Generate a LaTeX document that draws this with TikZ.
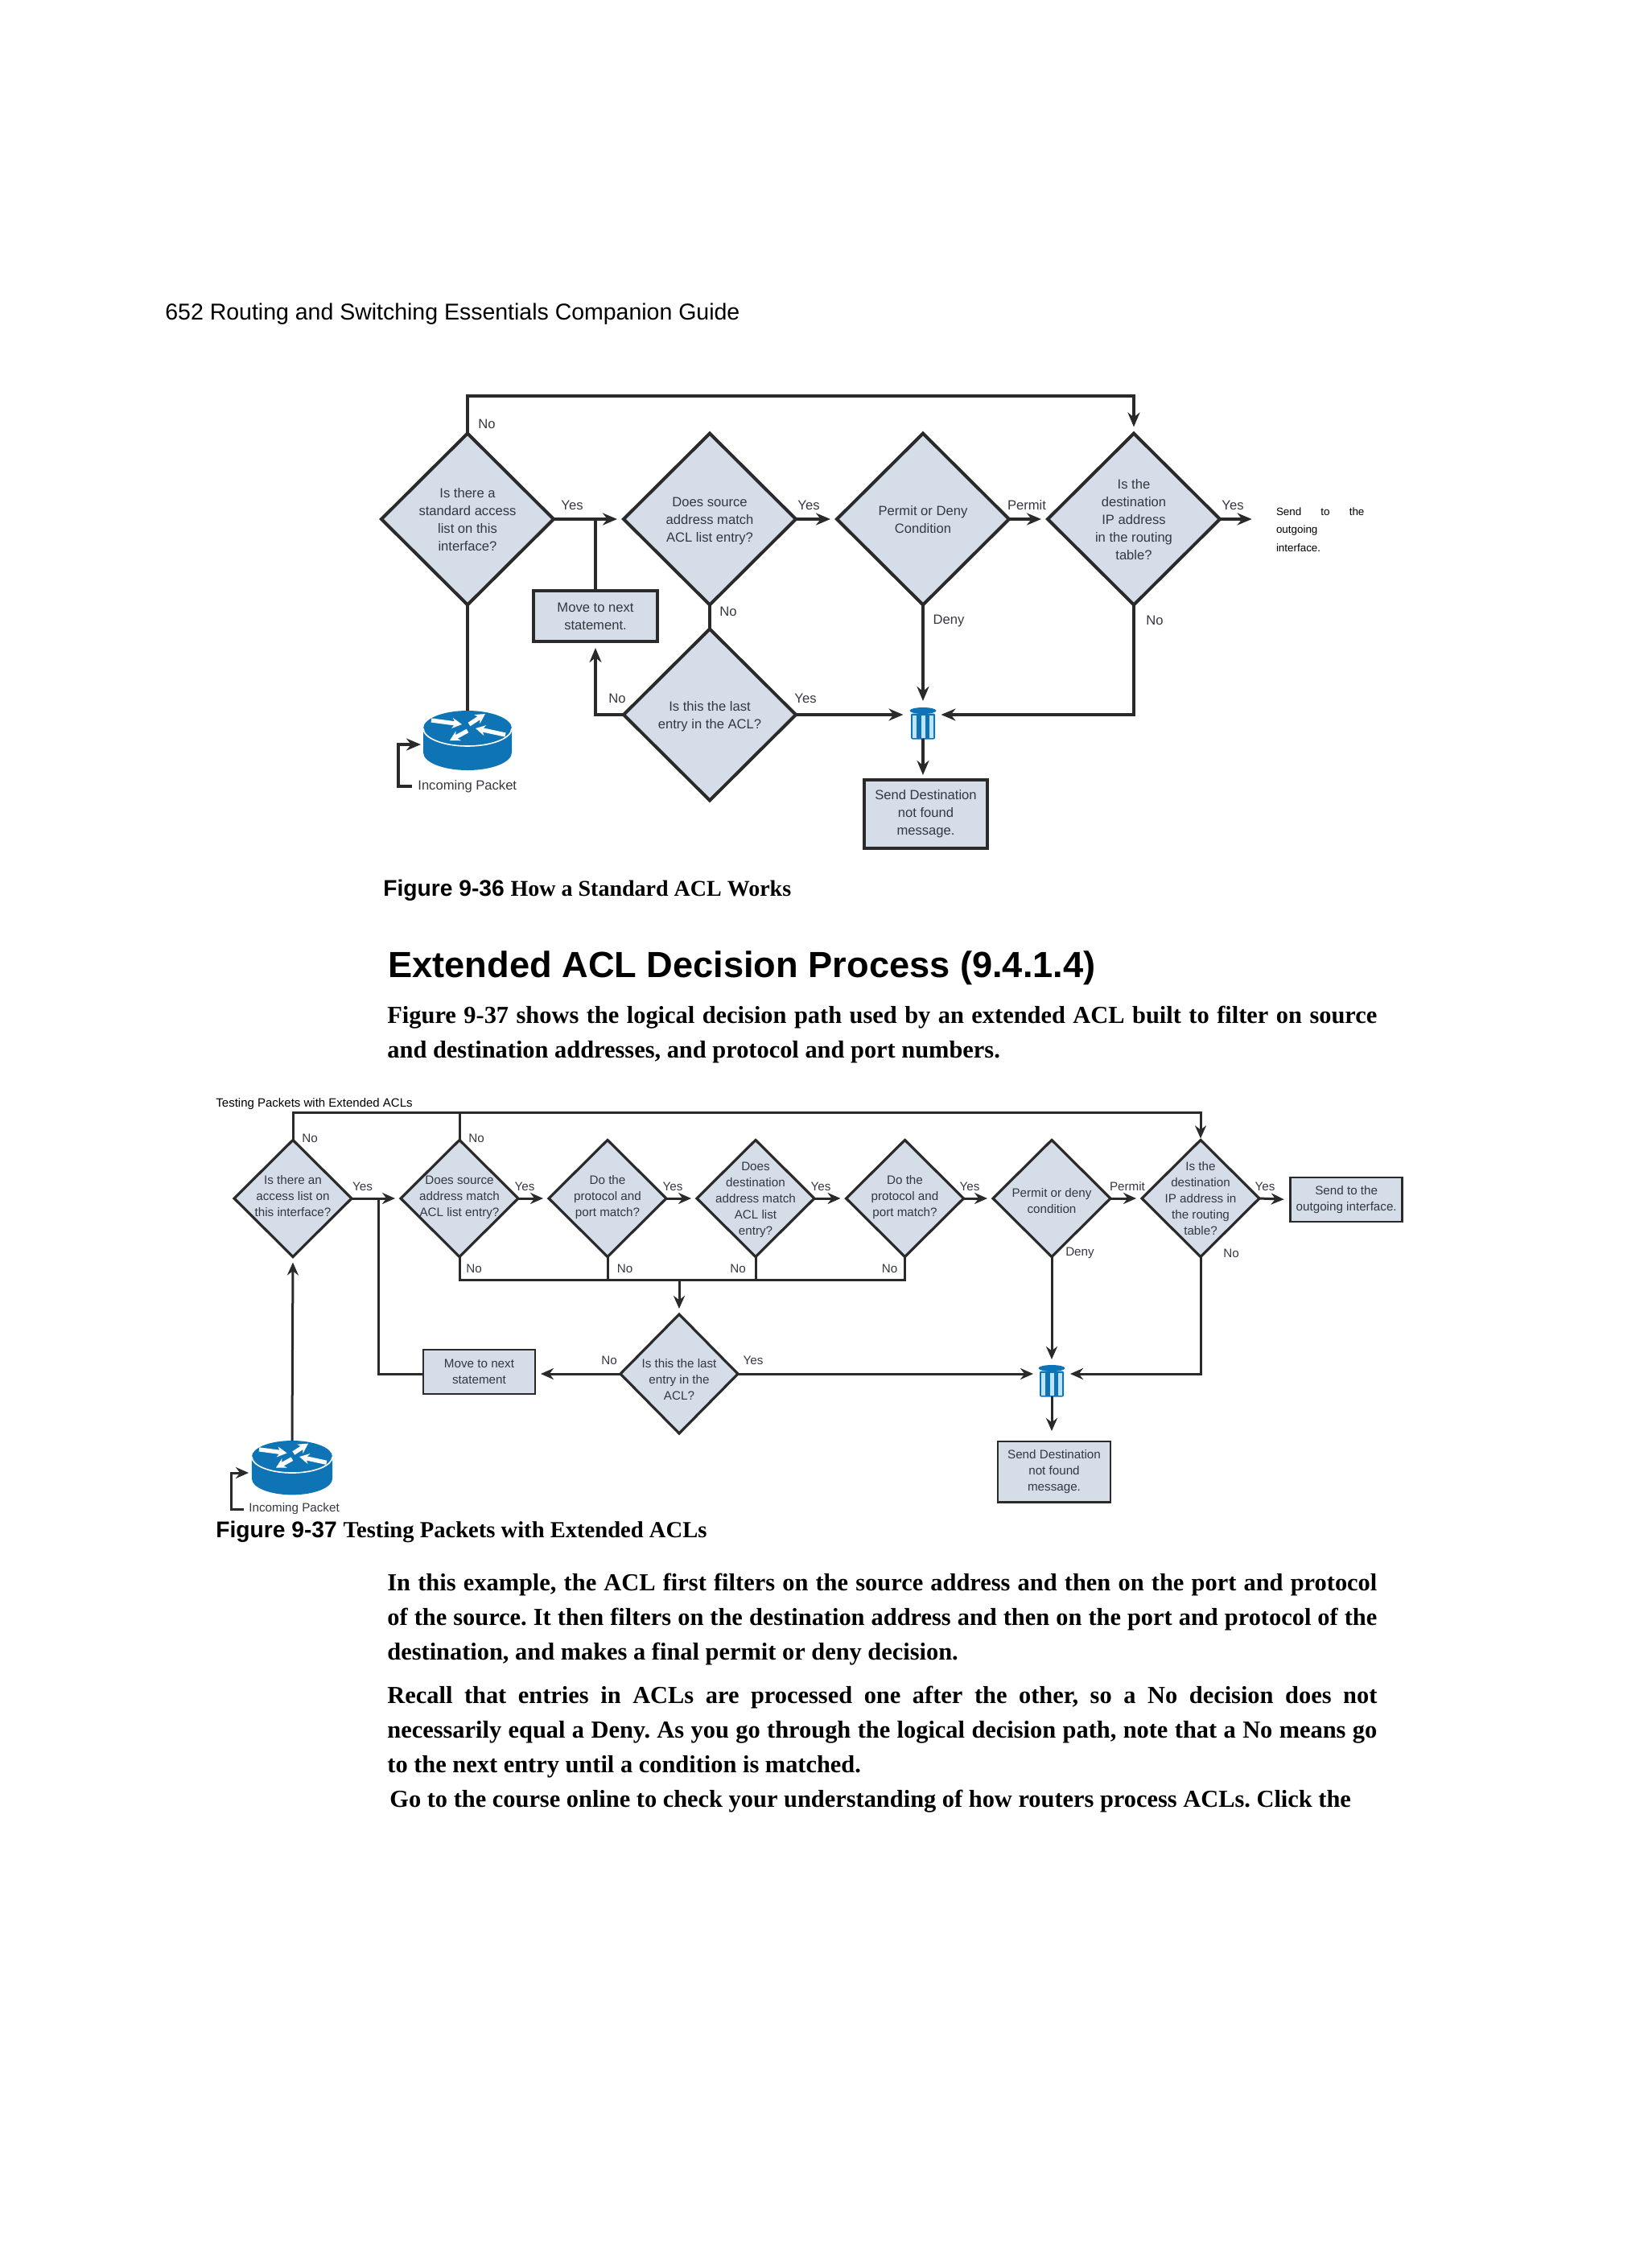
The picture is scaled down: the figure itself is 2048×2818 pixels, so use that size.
\documentclass[tikz,border=0pt]{standalone}
\usepackage{fontspec}
\setmainfont{Liberation Sans}
\newfontfamily\bookfont{Liberation Serif}
\usetikzlibrary{arrows.meta,shapes.geometric}
\definecolor{flowfill}{HTML}{D5DDE9}
\definecolor{flowline}{HTML}{2A2A2A}
\definecolor{flowtext}{HTML}{343940}
\definecolor{iconblue}{HTML}{0F74B6}
\definecolor{iconlight}{HTML}{BFE4F6}
\newcommand{\dtext}[2][-2.5pt]{\smash{\makebox[0pt]{\raisebox{#1}{\begin{tabular}{@{}c@{}}#2\end{tabular}}}}}
\newcommand{\bodyline}[1]{\makebox[615pt][s]{#1}}
\frenchspacing
\tikzset{
    bigdec/.style={diamond,aspect=1,draw=flowline,fill=flowfill,line width=2pt,inner sep=0pt,outer sep=0pt,minimum width=107pt,minimum height=106.5pt,text=flowtext,font=\fontsize{8.3}{11}\selectfont},
    smalldec/.style={diamond,aspect=1,draw=flowline,fill=flowfill,line width=1.6pt,inner sep=0pt,outer sep=0pt,minimum width=73pt,minimum height=72.5pt,text=flowtext,font=\fontsize{7.6}{10}\selectfont},
    bigbox/.style={rectangle,draw=flowline,fill=flowfill,line width=2pt,inner sep=0pt,outer sep=0pt,align=center,text=flowtext,font=\fontsize{8.3}{11}\selectfont},
    smallbox/.style={rectangle,draw=flowline,fill=flowfill,line width=1.4pt,inner sep=0pt,outer sep=0pt,align=center,text=flowtext,font=\fontsize{7.6}{10}\selectfont},
    bigline/.style={draw=flowline,line width=1.9pt},
    smallline/.style={draw=flowline,line width=1.5pt},
    bigflow/.style={bigline,-{Stealth[length=9pt,width=7.5pt]},shorten >=4pt},
    smallflow/.style={smallline,-{Stealth[length=8pt,width=7pt]},shorten >=3.5pt},
    biglab/.style={inner sep=0pt,text=flowtext,font=\fontsize{8.3}{11}\selectfont},
    smalllab/.style={inner sep=0pt,text=flowtext,font=\fontsize{7.6}{10}\selectfont},
    icon/.style={inner sep=0pt,outer sep=0pt},
    pagetext/.style={inner sep=0pt,anchor=west,align=left},
    bodytext/.style={inner sep=0pt,anchor=north west,align=left,font=\bookfont\bfseries\fontsize{15.2}{21.5}\selectfont},
    routerpic/.pic={
        \fill[iconblue] (-55,0) -- (-55,30) arc[start angle=180,end angle=0,x radius=55,y radius=22] -- (55,0) -- cycle;
        \fill[iconblue] (0,0) ellipse[x radius=55,y radius=22];
        \draw[white,line width=.8pt] (-55,0) arc[start angle=180,end angle=0,x radius=55,y radius=22];
        \draw[white,line width=2.6pt,-{Stealth[length=6pt,width=6.5pt]}] (-45,-10) -- (-7,-5);
        \draw[white,line width=2.6pt,-{Stealth[length=6pt,width=6.5pt]}] (2,-5) -- (22,-18);
        \draw[white,line width=2.6pt,-{Stealth[length=6pt,width=6.5pt]}] (47,8) -- (10,0);
        \draw[white,line width=2.6pt,-{Stealth[length=6pt,width=6.5pt]}] (0,3) -- (-22,15);
    },
    trashpic/.pic={
        \fill[iconblue,rounded corners=1pt] (-15,-12) rectangle (15,20);
        \fill[iconlight] (-13,-10) rectangle (-8,18);
        \fill[iconlight] (-2.5,-10) rectangle (2.5,18);
        \fill[iconlight] (8,-10) rectangle (13,18);
        \fill[iconblue] (0,-15.5) ellipse[x radius=16.5,y radius=4];
    }
}
\begin{document}
\begin{tikzpicture}[x=.5pt,y=-.5pt]
        \useasboundingbox (0,0) rectangle (2048,2818);
        \node[pagetext,font=\fontsize{14.24}{16}\selectfont] (header) at (205,390) {652 Routing and Switching Essentials Companion Guide};
        \node[bigdec] (std1) at (581,645) {\dtext[-3pt]{Is there a\\standard access\\list on this\\interface?}};
        \node[bigdec] (src1) at (882,645) {\dtext[-3pt]{Does source\\address match\\ACL list entry?}};
        \node[bigdec] (perm1) at (1147,645) {\dtext[-3pt]{Permit or Deny\\Condition}};
        \node[bigdec] (route1) at (1409,645) {\dtext[-3pt]{Is the\\destination\\IP address\\in the routing\\table?}};
        \node[bigdec] (last1) at (882,888) {\dtext[-3pt]{Is this the last\\entry in the ACL?}};
        \node[bigbox,minimum width=77pt,minimum height=31.5pt] (move1) at (740,765.5) {Move to next\\statement.};
        \node[bigbox,minimum width=76.5pt,minimum height=42.5pt] (dest1) at (1150.5,1011.5) {Send Destination\\not found\\message.};
        \node[icon,minimum width=27.5pt,minimum height=37pt] (router1) at (581,920) {};
        \node[icon,minimum width=16.5pt,minimum height=19.5pt] (trash1) at (1147,898.5) {};
        \pic at (581,905) {routerpic};
        \pic at (1147,898.5) {trashpic};
        \node[biglab,anchor=west] (packet1) at (519,977) {Incoming Packet};
        \node[pagetext,font=\fontsize{6.7}{11.25}\selectfont] (out1) at (1585.6,658) {\makebox[54.7pt][s]{Send to the}\\outgoing\\interface.};
        \coordinate (over1) at (1409,492);
        \coordinate (entry1) at (523,925);
        \coordinate (loop1) at (495,925);
        \draw[bigflow] (std1.north) |- (over1) -- (route1.north);
        \draw[bigline] (std1.south) -- (router1.north);
        \draw[bigflow] (std1.east) -- (src1.west);
        \draw[bigflow] (src1.east) -- (perm1.west);
        \draw[bigflow] (perm1.east) -- (route1.west);
        \draw[bigflow,shorten >=15pt] (route1.east) -- (out1.west |- route1.east);
        \draw[bigline] (src1.south) -- (last1.north);
        \draw[bigline] (move1.north) -- (move1.north |- std1.east);
        \draw[bigflow] (last1.west) -| (move1.south);
        \draw[bigflow] (last1.east) -- (trash1.west |- last1.east);
        \draw[bigflow] (perm1.south) -- (trash1.north);
        \draw[bigflow,shorten >=3pt] (route1.south) |- (trash1.east |- last1.east);
        \draw[bigflow,shorten >=3pt] (trash1.south) -- (trash1.south |- dest1.north);
        \draw[bigline,-{Stealth[length=9pt,width=7.5pt]},shorten <=3.5pt] (packet1.west) -| (loop1) -- (entry1);
        \node[biglab] (lno1) at (605,527) {No};
        \node[biglab] (lyes1) at (711,628) {Yes};
        \node[biglab] (lyes2) at (1005,628) {Yes};
        \node[biglab] (lpermit1) at (1276,628) {Permit};
        \node[biglab] (lyes3) at (1532,628) {Yes};
        \node[biglab] (lno2) at (905,760) {No};
        \node[biglab] (ldeny1) at (1179,771) {Deny};
        \node[biglab] (lno3) at (1435,771) {No};
        \node[biglab] (lno4) at (767,868) {No};
        \node[biglab] (lyes4) at (1001,868) {Yes};
        \node[pagetext,font=\fontsize{14.1}{16}\selectfont] (cap1) at (476,1106) {\textbf{Figure 9-36} {\bookfont\bfseries\fontsize{14}{16}\selectfont How a Standard ACL Works}};
        \node[pagetext,font=\bfseries\fontsize{22.6}{26}\selectfont] (title) at (482,1203) {Extended ACL Decision Process (9.4.1.4)};
        \node[bodytext] (para1) at (481,1250) {\bodyline{Figure 9-37 shows the logical decision path used by an extended ACL built to filter on source}\\and destination addresses, and protocol and port numbers.};
        \node[pagetext,font=\fontsize{7.5}{10}\selectfont] (figtitle) at (268,1372) {Testing Packets with Extended ACLs};
        \node[smalldec] (std2) at (364,1489) {\dtext[-1.2pt]{Is there an\\access list on\\this interface?}};
        \node[smalldec] (src2) at (571,1489) {\dtext[-1.2pt]{Does source\\address match\\ACL list entry?}};
        \node[smalldec] (port2) at (755,1489) {\dtext[-1.2pt]{Do the\\protocol and\\port match?}};
        \node[smalldec] (dst2) at (939,1489) {\dtext{Does\\destination\\address match\\ACL list\\entry?}};
        \node[smalldec] (port3) at (1124.5,1489) {\dtext[-1.2pt]{Do the\\protocol and\\port match?}};
        \node[smalldec] (perm2) at (1307,1489) {\dtext[-4pt]{Permit or deny\\condition}};
        \node[smalldec] (route2) at (1492,1489) {\dtext{Is the\\destination\\IP address in\\the routing\\table?}};
        \node[smalldec,minimum height=74pt] (last2) at (844,1707) {\dtext[-6pt]{Is this the last\\entry in the\\ACL?}};
        \node[smallbox,minimum width=69.5pt,minimum height=27.5pt] (move2) at (595.5,1704.5) {Move to next\\statement};
        \node[smallbox,minimum width=69.5pt,minimum height=27.5pt] (out2) at (1673.2,1490.5) {Send to the\\outgoing interface.};
        \node[smallbox,minimum width=70pt,minimum height=37.7pt] (dest2) at (1310,1828.7) {Send Destination\\not found\\message.};
        \node[icon,minimum width=25pt,minimum height=33.5pt] (router2) at (363,1823.5) {};
        \node[icon,minimum width=16pt,minimum height=19.5pt] (trash2) at (1307,1715.5) {};
        \pic[scale=.91] at (363,1810) {routerpic};
        \pic at (1307,1715.5) {trashpic};
        \node[smalllab,anchor=west] (packet2) at (309,1875) {Incoming Packet};
        \coordinate (over2) at (1492,1382);
        \coordinate (entry2) at (309,1830);
        \coordinate (loop2) at (287,1830);
        \coordinate (bus2) at (1124.5,1590);
        \coordinate (back2) at (470,1707);
        \draw[smallflow,shorten >=1pt] (std2.north) |- (over2) -- (route2.north);
        \draw[smallline] (src2.north) -- (src2.north |- over2);
        \draw[smallflow] (std2.east) -- (src2.west);
        \draw[smallflow] (src2.east) -- (port2.west);
        \draw[smallflow] (port2.east) -- (dst2.west);
        \draw[smallflow] (dst2.east) -- (port3.west);
        \draw[smallflow] (port3.east) -- (perm2.west);
        \draw[smallflow] (perm2.east) -- (route2.west);
        \draw[smallflow,shorten >=4pt] (route2.east) -- (out2.west);
        \draw[smallline] (src2.south) |- (bus2) -- (port3.south);
        \draw[smallline] (port2.south) -- (port2.south |- bus2);
        \draw[smallline] (dst2.south) -- (dst2.south |- bus2);
        \draw[smallflow] (last2.north |- bus2) -- (last2.north);
        \draw[smallflow] (last2.west) -- (last2.west -| move2.east);
        \draw[smallline] (last2.west -| move2.west) -- (back2) -- (back2 |- std2.east);
        \draw[smallflow] (last2.east) -- (trash2.west |- last2.east);
        \draw[smallflow] (perm2.south) -- (trash2.north);
        \draw[smallflow] (route2.south) |- (trash2.east |- last2.east);
        \draw[smallflow,shorten >=6.5pt] (trash2.south) -- (trash2.south |- dest2.north);
        \draw[smallflow] (router2.north) -- (std2.south);
        \draw[smallline,-{Stealth[length=8pt,width=7pt]},shorten <=3pt] (packet2.west) -| (loop2) -- (entry2);
        \node[smalllab] (lno5) at (385,1414) {No};
        \node[smalllab] (lno6) at (592,1414) {No};
        \node[smalllab] (lyes5) at (450.5,1474) {Yes};
        \node[smalllab] (lyes6) at (652,1474) {Yes};
        \node[smalllab] (lyes7) at (836,1474) {Yes};
        \node[smalllab] (lyes8) at (1020,1474) {Yes};
        \node[smalllab] (lyes9) at (1205,1474) {Yes};
        \node[smalllab] (lpermit2) at (1401,1474) {Permit};
        \node[smalllab] (lyes10) at (1572,1474) {Yes};
        \node[smalllab] (lno7) at (589,1576) {No};
        \node[smalllab] (lno8) at (776.5,1576) {No};
        \node[smalllab] (lno9) at (917,1576) {No};
        \node[smalllab] (lno10) at (1105.5,1576) {No};
        \node[smalllab] (ldeny2) at (1342,1557) {Deny};
        \node[smalllab] (lno11) at (1530,1557) {No};
        \node[smalllab] (lno12) at (757,1690) {No};
        \node[smalllab] (lyes11) at (936,1690) {Yes};
        \node[pagetext,font=\fontsize{14.1}{16}\selectfont] (cap2) at (268,1903) {\textbf{Figure 9-37} {\bookfont\bfseries\fontsize{14.3}{16}\selectfont Testing Packets with Extended ACLs}};
        \node[bodytext] (para2) at (481,1955) {\bodyline{In this example, the ACL first filters on the source address and then on the port and protocol}\\\bodyline{of the source. It then filters on the destination address and then on the port and protocol of the}\\destination, and makes a final permit or deny decision.};
        \node[bodytext] (para3) at (481,2095) {\bodyline{Recall that entries in ACLs are processed one after the other, so a No decision does not}\\\bodyline{necessarily equal a Deny. As you go through the logical decision path, note that a No means go}\\to the next entry until a condition is matched.};
        \node[bodytext] (para4) at (484,2224) {Go to the course online to check your understanding of how routers process ACLs. Click the};
    \end{tikzpicture}
\end{document}
